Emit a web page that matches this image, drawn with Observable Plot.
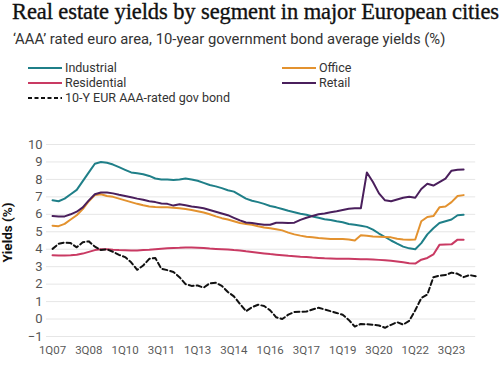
<!DOCTYPE html>
<html>
<head>
<meta charset="utf-8">
<script src="https://cdn.jsdelivr.net/npm/d3@7"></script>
<script src="https://cdn.jsdelivr.net/npm/@observablehq/plot@0.6"></script>
<style>
  html, body { margin: 0; padding: 0; background: #fff; }
  #wrap { position: relative; width: 500px; height: 375px; overflow: hidden; font-family: "Roboto", "Lato", sans-serif; }
  #title { position: absolute; left: 12px; top: -1px; font-family: "Liberation Serif", "DejaVu Serif", serif; font-size: 22.5px; line-height: 26px; color: #111; white-space: nowrap; letter-spacing: -0.1px; -webkit-text-stroke: 0.35px #111; }
  #subtitle { position: absolute; left: 13px; top: 30px; font-size: 14.8px; color: #333; white-space: nowrap; }
  .leg { position: absolute; font-size: 12.5px; color: #333; white-space: nowrap; line-height: 14px; display: flex; align-items: center; }
  .leg svg { margin-right: 3px; }
  #chart { position: absolute; left: 0; top: 105px; }
</style>
</head>
<body>
<div id="wrap">
  <div id="title">Real estate yields by segment in major European cities</div>
  <div id="subtitle">‘AAA’ rated euro area, 10-year government bond average yields (%)</div>
  <div id="legend"></div>
  <div id="chart"></div>
</div>
<script>
// Quarterly data, 1Q07 onwards
const seriesNames = ["Industrial", "Office", "Residential", "Retail", "10-Y EUR AAA-rated gov bond"];
const seriesColors = ["#1f7f88", "#e3922f", "#c93a63", "#4a1f5c", "#111111"];

const industrial = [6.8, 6.75, 6.9, 7.15, 7.4, 7.9, 8.4, 8.9, 9.0, 8.95, 8.85, 8.7, 8.55, 8.4, 8.35, 8.3, 8.2, 8.05, 8.0, 8.0, 7.97, 8.0, 8.05, 8.0, 7.92, 7.8, 7.68, 7.6, 7.5, 7.38, 7.3, 7.1, 6.9, 6.78, 6.7, 6.6, 6.48, 6.4, 6.3, 6.2, 6.12, 6.03, 5.98, 5.88, 5.8, 5.72, 5.67, 5.6, 5.55, 5.45, 5.4, 5.35, 5.28, 5.12, 4.9, 4.7, 4.5, 4.32, 4.15, 4.05, 4.0, 4.35, 4.85, 5.2, 5.5, 5.6, 5.7, 5.95, 5.97];
const office = [5.35, 5.32, 5.45, 5.7, 5.95, 6.3, 6.75, 7.1, 7.15, 7.05, 7.0, 6.9, 6.8, 6.7, 6.6, 6.52, 6.45, 6.42, 6.4, 6.4, 6.38, 6.35, 6.3, 6.25, 6.18, 6.1, 6.0, 5.88, 5.78, 5.7, 5.6, 5.5, 5.45, 5.4, 5.32, 5.25, 5.2, 5.15, 5.08, 4.95, 4.85, 4.78, 4.72, 4.68, 4.64, 4.62, 4.59, 4.58, 4.58, 4.56, 4.5, 4.8, 4.77, 4.73, 4.72, 4.7, 4.68, 4.6, 4.56, 4.55, 4.56, 5.6, 5.85, 5.9, 6.4, 6.45, 6.7, 7.05, 7.1];
const residential = [3.65, 3.64, 3.64, 3.65, 3.68, 3.75, 3.85, 3.95, 4.0, 4.0, 3.97, 3.95, 3.94, 3.93, 3.93, 3.95, 3.97, 4.0, 4.03, 4.05, 4.07, 4.08, 4.1, 4.1, 4.09, 4.07, 4.04, 4.02, 4.0, 3.98, 3.95, 3.93, 3.88, 3.84, 3.8, 3.76, 3.72, 3.69, 3.66, 3.62, 3.6, 3.57, 3.55, 3.52, 3.5, 3.48, 3.47, 3.46, 3.46, 3.45, 3.44, 3.43, 3.42, 3.41, 3.39, 3.37, 3.34, 3.3, 3.25, 3.2, 3.18, 3.4, 3.5, 3.7, 4.25, 4.27, 4.28, 4.55, 4.55];
const retail = [5.9, 5.87, 5.88, 6.0, 6.15, 6.4, 6.8, 7.15, 7.25, 7.25, 7.2, 7.12, 7.05, 6.98, 6.9, 6.83, 6.75, 6.7, 6.62, 6.6, 6.5, 6.58, 6.52, 6.45, 6.4, 6.35, 6.25, 6.15, 6.05, 5.95, 5.8, 5.65, 5.53, 5.5, 5.45, 5.4, 5.4, 5.52, 5.52, 5.5, 5.52, 5.68, 5.8, 5.9, 6.0, 6.05, 6.12, 6.18, 6.25, 6.32, 6.35, 6.35, 8.4, 7.85, 7.2, 6.8, 6.75, 6.85, 6.95, 7.0, 6.95, 7.45, 7.75, 7.65, 7.85, 8.05, 8.5, 8.55, 8.57];
const govBond = [4.02, 4.31, 4.38, 4.35, 4.11, 4.4, 4.45, 4.15, 3.95, 4.0, 3.85, 3.68, 3.55, 3.25, 2.82, 3.07, 3.45, 3.5, 2.88, 2.8, 2.7, 2.4, 2.0, 1.9, 1.92, 1.8, 2.05, 2.08, 1.9, 1.55, 1.3, 0.87, 0.45, 0.68, 0.82, 0.75, 0.5, 0.1, 0.0, 0.25, 0.4, 0.42, 0.43, 0.55, 0.65, 0.55, 0.45, 0.35, 0.25, -0.05, -0.43, -0.28, -0.3, -0.33, -0.37, -0.5, -0.33, -0.18, -0.32, -0.1, 0.5, 1.2, 1.4, 2.4, 2.48, 2.52, 2.66, 2.59, 2.4, 2.52, 2.45];

const xTickLabels = ["1Q07", "3Q08", "1Q10", "3Q11", "1Q13", "3Q14", "1Q16", "3Q17", "1Q19", "3Q20", "1Q22", "3Q23"];
const yTicks = [-1, 0, 1, 2, 3, 4, 5, 6, 7, 8, 9, 10];

// quarter label -> index from 1Q07
const qIndex = (lab) => (+lab.slice(2) - 7) * 4 + (+lab[0] - 1);
const xTickPos = xTickLabels.map(qIndex);

const allSeries = [industrial, office, residential, retail, govBond];
const rows = [];
allSeries.forEach((arr, s) => arr.forEach((v, i) => rows.push({series: seriesNames[s], q: i, v})));

const color = Object.fromEntries(seriesNames.map((n, i) => [n, seriesColors[i]]));

// Legend
const legendItems = [
  {name: "Industrial", left: 28, top: 61},
  {name: "Office", left: 282, top: 61},
  {name: "Residential", left: 28, top: 76},
  {name: "Retail", left: 282, top: 76},
  {name: "10-Y EUR AAA-rated gov bond", left: 28, top: 91}
];
const legend = document.getElementById("legend");
for (const it of legendItems) {
  const d = document.createElement("div");
  d.className = "leg";
  d.style.left = it.left + "px";
  d.style.top = it.top + "px";
  const dashed = it.name.startsWith("10-Y");
  d.innerHTML = `<svg width="34" height="4"><line x1="0" x2="34" y1="2" y2="2" stroke="${color[it.name]}" stroke-width="2" ${dashed ? 'stroke-dasharray="4,2.5"' : ''}/></svg><span>${it.name}</span>`;
  legend.appendChild(d);
}

const chart = Plot.plot({
  width: 500,
  height: 270,
  marginLeft: 46,
  marginRight: 24.8,
  marginTop: 39,
  marginBottom: 39,
  style: {fontFamily: "Roboto, Lato, sans-serif", fontSize: "12px", color: "#555", background: "transparent"},
  x: {domain: [-1, 70], axis: null},
  y: {domain: [-1, 10], axis: null},
  marks: [
    Plot.ruleY(yTicks, {stroke: "#e6e6e6", strokeWidth: 1}),
    Plot.axisY(yTicks, {tickSize: 0, tickPadding: 4, label: null, fill: "#555", fontSize: 13}),
    Plot.axisX(xTickPos, {tickSize: 0, tickPadding: 9, label: null, fill: "#5a5a5a", fontSize: 11.5, tickFormat: (d) => xTickLabels[xTickPos.indexOf(d)]}),
    Plot.text(["Yields (%)"], {frameAnchor: "left", textAnchor: "middle", rotate: -90, dx: -39, dy: -8, fontWeight: "bold", fontSize: 13.5, fill: "#111"}),
    Plot.line(rows.filter(d => d.series !== seriesNames[4]), {x: "q", y: "v", z: "series", stroke: (d) => color[d.series], strokeWidth: 2, curve: "linear"}),
    Plot.line(rows.filter(d => d.series === seriesNames[4]), {x: "q", y: "v", stroke: "#111", strokeWidth: 2, strokeDasharray: "5,3"})
  ]
});
document.getElementById("chart").appendChild(chart);
</script>
</body>
</html>
